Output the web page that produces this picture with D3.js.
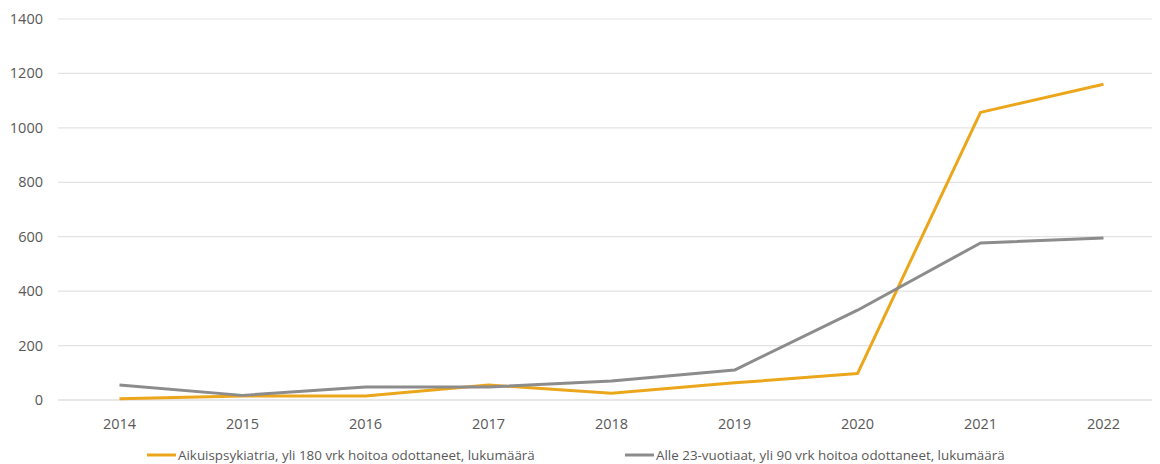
<!DOCTYPE html>
<html><head><meta charset="utf-8">
<script src="https://cdn.jsdelivr.net/npm/d3@7"></script>
<style>body{margin:0;background:#fff}svg{display:block}text{font-family:"Open Sans",sans-serif;fill:#595959}</style>
</head><body><svg id="c" width="1160" height="464"></svg>
<script>
const years = ["2014","2015","2016","2017","2018","2019","2020","2021","2022"];
const adultPsych = [5, 15, 15, 55, 25, 63, 97, 1057, 1160];
const under23 = [55, 17, 48, 48, 70, 110, 330, 577, 595];
const yTicks = [0,200,400,600,800,1000,1200,1400];
const seriesNames = ["Aikuispsykiatria, yli 180 vrk hoitoa odottaneet, lukumäärä","Alle 23-vuotiaat, yli 90 vrk hoitoa odottaneet, lukumäärä"];
const colors = ["#EBA61C","#8C8C8C"];

const svg = d3.select("#c");
const x = d3.scaleBand().domain(years).range([58, 1165]);
const y = d3.scaleLinear().domain([0,1400]).range([400, 19]);

svg.append("g").selectAll("line").data(yTicks).join("line")
  .attr("x1",58).attr("x2",1152).attr("y1",d=>y(d)).attr("y2",d=>y(d))
  .attr("stroke", d=>d===0?"#d0d0d0":"#e3e3e3").attr("stroke-width",1.2);
svg.append("g").selectAll("text").data(yTicks).join("text")
  .attr("x",43).attr("y",d=>y(d)+5).attr("text-anchor","end").attr("font-size",14.5).text(d=>d);
svg.append("g").selectAll("text").data(years).join("text")
  .attr("x",d=>x(d)+x.bandwidth()/2).attr("y",429).attr("text-anchor","middle").attr("font-size",14.5).text(d=>d);

const line = d3.line().x((d,i)=>x(years[i])+x.bandwidth()/2).y(d=>y(d));
[adultPsych, under23].forEach((s,k)=>{
  svg.append("path").datum(s).attr("d",line).attr("fill","none")
    .attr("stroke",colors[k]).attr("stroke-width",3).attr("stroke-linejoin","round");
});

const lx = [147, 625];
seriesNames.forEach((n,k)=>{
  svg.append("line").attr("x1",lx[k]).attr("x2",lx[k]+29).attr("y1",455).attr("y2",455)
    .attr("stroke",colors[k]).attr("stroke-width",3);
  svg.append("text").attr("x",lx[k]+31).attr("y",460).attr("font-size",13.4).text(n);
});
</script></body></html>
